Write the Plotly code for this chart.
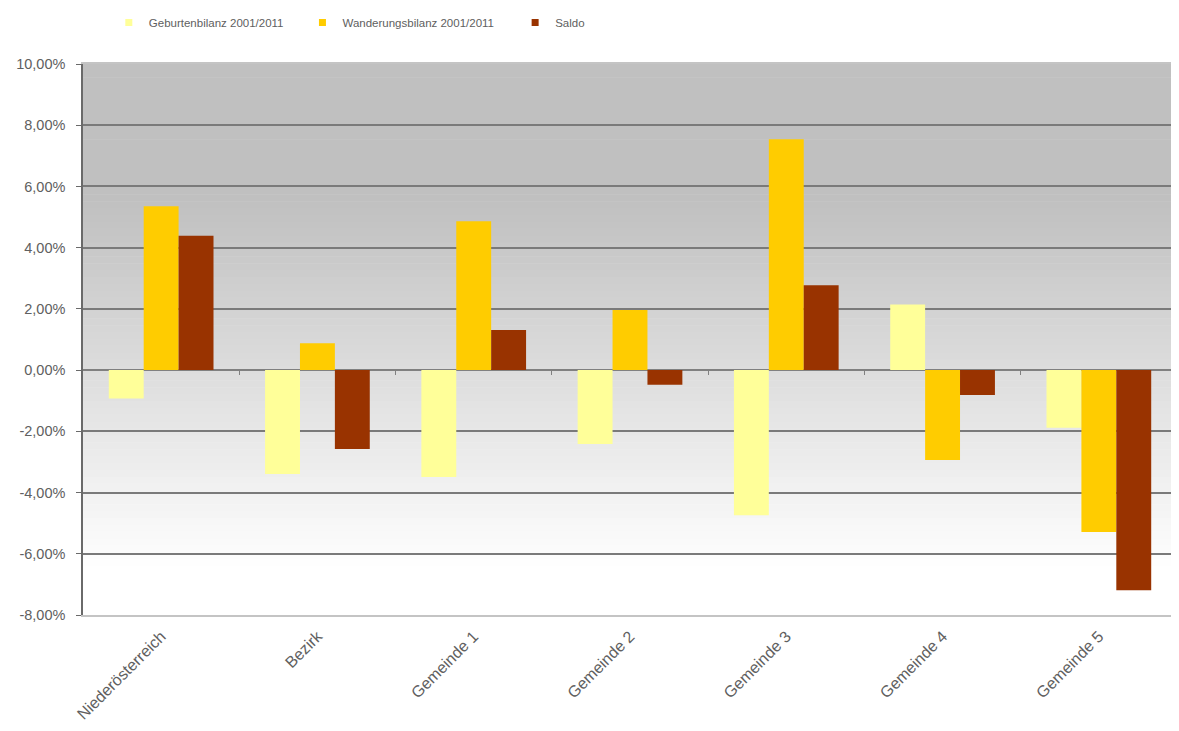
import plotly.graph_objects as go

categories = ["Niederösterreich", "Bezirk", "Gemeinde 1", "Gemeinde 2",
              "Gemeinde 3", "Gemeinde 4", "Gemeinde 5"]
geburtenbilanz = [-0.93, -3.39, -3.49, -2.41, -4.74, 2.14, -1.88]
wanderungsbilanz = [5.35, 0.88, 4.86, 1.96, 7.54, -2.94, -5.29]
saldo = [4.39, -2.58, 1.31, -0.48, 2.77, -0.81, -7.19]
series_names = ["Geburtenbilanz 2001/2011", "Wanderungsbilanz 2001/2011", "Saldo"]
colors = ["#FFFF99", "#FFCC00", "#993300"]
y_ticks = [-8, -6, -4, -2, 0, 2, 4, 6, 8, 10]
y_ticktext = [f"{v:.2f}".replace(".", ",") + "%" for v in y_ticks]

FONT = "Liberation Sans, Arial, sans-serif"
TXT = "#606060"

fig = go.Figure()
legends = ["legend", "legend2", "legend3"]
for vals, name, col in zip([geburtenbilanz, wanderungsbilanz, saldo], series_names, colors):
    fig.add_trace(go.Bar(x=categories, y=vals, name=name, marker_color=col,
                         marker_line_width=0, showlegend=False))
# legend entries with small square markers
for name, col, lg in zip(series_names, colors, legends):
    fig.add_trace(go.Scatter(x=[None], y=[None], mode="markers", name=name,
                             marker=dict(symbol="square", size=7, color=col),
                             legend=lg, showlegend=True))

# gradient background via stacked bands
shapes = []
N = 80
for i in range(N):
    f0 = i / N
    f1 = (i + 1) / N
    fm = (f0 + f1) / 2  # fraction from top
    if fm < 0.25:
        v = 192
    elif fm > 0.92:
        v = 255
    else:
        v = 192 + (255 - 192) * (fm - 0.25) / (0.92 - 0.25)
    v = int(round(v))
    shapes.append(dict(type="rect", xref="x domain", yref="y domain",
                       x0=0, x1=1, y0=1 - f1, y1=1 - f0 + 0.001,
                       fillcolor=f"rgb({v},{v},{v})", line_width=0, layer="below"))

leg_common = dict(orientation="h", yanchor="middle", y=1.076, xanchor="left",
                  font=dict(family=FONT, size=11.5, color=TXT),
                  bgcolor="rgba(0,0,0,0)", itemwidth=30)

fig.update_layout(
    width=1169, height=715,
    margin=dict(l=75, r=0, t=56, b=106),
    paper_bgcolor="white", plot_bgcolor="rgba(0,0,0,0)",
    barmode="group", bargap=0.33, bargroupgap=0,
    shapes=shapes,
    legend=dict(leg_common, x=0.0236),
    legend2=dict(leg_common, x=0.2006),
    legend3=dict(leg_common, x=0.395),
    xaxis=dict(type="category", tickangle=-45, showgrid=False,
               showline=True, linecolor="#c4c4c4", linewidth=1.5, mirror=True,
               ticks="", ticklabelstandoff=4,
               tickfont=dict(family=FONT, size=16, color=TXT),
               zeroline=False),
    xaxis2=dict(overlaying="x", anchor="free", position=8 / 18, range=[-0.5, 6.5],
                type="linear", tickvals=[0.5, 1.5, 2.5, 3.5, 4.5, 5.5],
                ticks="outside", ticklen=4, tickcolor="#808080", tickwidth=1,
                showticklabels=False, showgrid=False, showline=False, zeroline=False),
    yaxis=dict(range=[-8, 10], tickvals=y_ticks, ticktext=y_ticktext,
               showgrid=True, gridcolor="#7a7a7a", gridwidth=1.5,
               zeroline=True, zerolinecolor="#808080", zerolinewidth=1.5,
               showline=True, linecolor="#6a6a6a", linewidth=1.5,
               ticks="outside", ticklen=5, tickcolor="#6a6a6a",
               ticklabelstandoff=8,
               tickfont=dict(family=FONT, size=14.5, color=TXT)),
)

fig.add_trace(go.Scatter(x=[0.5], y=[0], xaxis="x2", yaxis="y", mode="markers",
                         marker=dict(opacity=0), showlegend=False, hoverinfo="skip"))

fig.write_html("out.html")
